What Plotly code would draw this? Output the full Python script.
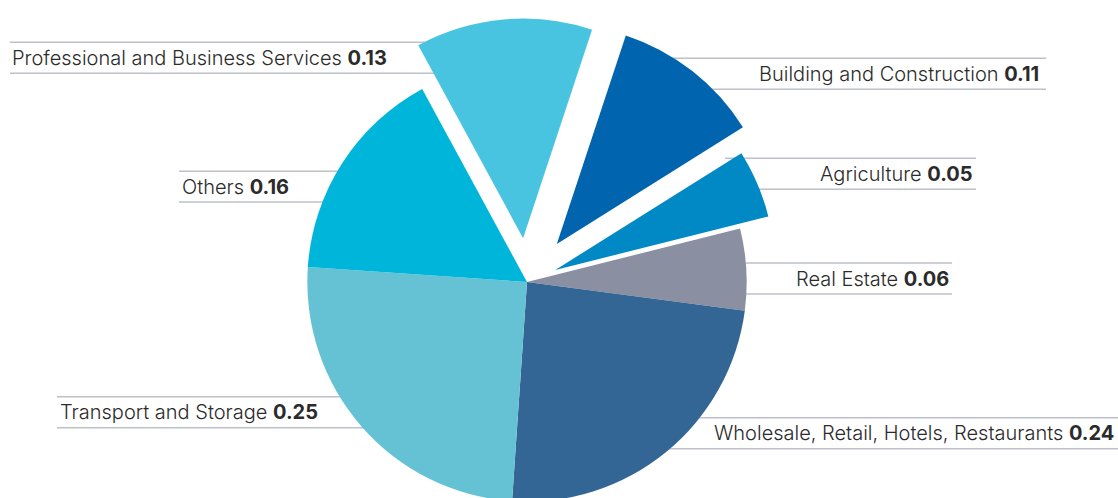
import plotly.graph_objects as go

# Sector shares (clockwise from the top-left slice)
sectors = [
    "Professional and Business Services",
    "Building and Construction",
    "Agriculture",
    "Real Estate",
    "Wholesale, Retail, Hotels, Restaurants",
    "Transport and Storage",
    "Others",
]
shares = [0.13, 0.11, 0.05, 0.06, 0.24, 0.25, 0.16]
colors = ["#48C4E1", "#0064AF", "#0089C5", "#8A90A1", "#336695", "#65C2D4", "#00B5DA"]
pulls = [0.20, 0.22, 0.14, 0, 0, 0, 0]

# Label placement in page pixels: (anchor x, side, line top y, line start x, line end x)
label_layout = [
    (10, "left", 42, 10, 500),
    (1041, "right", 58, 640, 1046),
    (975, "right", 158, 725, 976),
    (951, "right", 263, 650, 952),
    (1116, "right", 418, 620, 1118),
    (58, "left", 397, 57, 450),
    (180, "left", 171, 179, 400),
]
line_gap = 31

W = 1118
radius = 220
cx, cy = 527, 282
max_pull = max(pulls)
plot_h = 2 * radius * (1 + max_pull)
top = cy - plot_h / 2
H = int(round(top + plot_h))
plot_w = 2 * cx
right = W - plot_w


def px(x):
    return x / plot_w


def py(y):
    return 1 - (y - top) / plot_h


fig = go.Figure(
    go.Pie(
        labels=sectors,
        values=shares,
        sort=False,
        direction="clockwise",
        rotation=-28.5,
        pull=pulls,
        marker=dict(colors=colors, line=dict(width=0)),
        textinfo="none",
        hovertemplate="%{label}: %{value}<extra></extra>",
        showlegend=False,
    )
)

shapes = []
annotations = []
for name, val, (ax, side, ly, x0, x1) in zip(sectors, shares, label_layout):
    for yy in (ly, ly + line_gap):
        shapes.append(dict(
            type="line", xref="paper", yref="paper",
            x0=px(x0), x1=px(x1), y0=py(yy), y1=py(yy),
            line=dict(color="#BEC0CA", width=1.5), layer="below",
        ))
    annotations.append(dict(
        xref="paper", yref="paper",
        x=px(ax), y=py(ly + line_gap / 2),
        xanchor=side, yanchor="middle",
        text=f"{name} <b>{val:.2f}</b>",
        showarrow=False,
        font=dict(family="Inter", size=20, color="#2B2B2B", weight=300),
    ))

fig.update_layout(
    width=W, height=H,
    margin=dict(l=0, r=right, t=top, b=0),
    paper_bgcolor="white",
    plot_bgcolor="white",
    shapes=shapes,
    annotations=annotations,
)

fig.write_html("out.html")
